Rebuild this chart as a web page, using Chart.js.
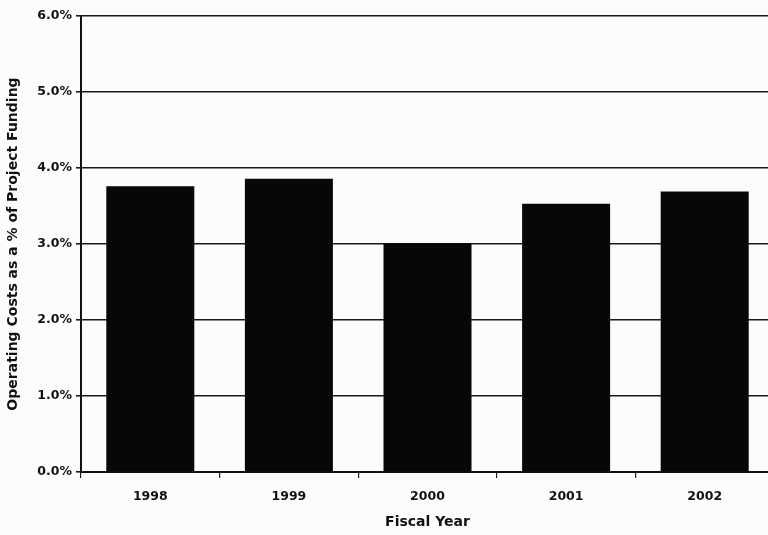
<!DOCTYPE html>
<html>
<head>
<meta charset="utf-8">
<script src="https://cdn.jsdelivr.net/npm/chart.js@4/dist/chart.umd.min.js"></script>
<style>
  html, body { margin: 0; padding: 0; background: #fcfcfc; overflow: hidden; }
  #wrap { width: 776px; height: 535px; }
</style>
</head>
<body>
<div id="wrap"><canvas id="c" width="776" height="535"></canvas></div>
<script>
// Operating costs as a share of project funding, by fiscal year
const fiscalYears = ['1998', '1999', '2000', '2001', '2002'];
const costShare = [3.76, 3.86, 3.01, 3.53, 3.69];
const yTicks = [0, 1, 2, 3, 4, 5, 6];

const tickFont = { family: 'DejaVu Sans', weight: 'bold', size: 12.5 };
const titleFont = { family: 'DejaVu Sans', weight: 'bold', size: 14 };

new Chart(document.getElementById('c'), {
  type: 'bar',
  data: {
    labels: fiscalYears,
    datasets: [{
      data: costShare,
      backgroundColor: '#070707',
      borderWidth: 0,
      barPercentage: 1.0,
      categoryPercentage: 0.635
    }]
  },
  options: {
    responsive: false,
    animation: false,
    layout: { padding: { top: 16, left: 0, right: 2, bottom: 0 } },
    plugins: { legend: { display: false }, tooltip: { enabled: false } },
    scales: {
      x: {
        grid: {
          offset: true,
          drawOnChartArea: false,
          drawTicks: true,
          tickLength: 6,
          color: '#222',
          lineWidth: 1.2
        },
        border: { display: true, color: '#111', width: 2 },
        ticks: { color: '#111', font: tickFont, padding: 11 },
        title: {
          display: true,
          text: 'Fiscal Year',
          color: '#111',
          font: titleFont,
          padding: { top: 4, bottom: 4 }
        },
        afterFit(scale) { scale.height = 63; }
      },
      y: {
        min: 0,
        max: 6,
        afterBuildTicks(scale) { scale.ticks = yTicks.map(v => ({ value: v })); },
        grid: {
          color: '#1a1a1a',
          lineWidth: 1.6,
          drawTicks: true,
          tickLength: 5
        },
        border: { display: true, color: '#111', width: 2 },
        ticks: {
          color: '#111',
          font: tickFont,
          padding: 4,
          callback: v => v.toFixed(1) + '%'
        },
        title: {
          display: true,
          text: 'Operating Costs as a % of Project Funding',
          color: '#111',
          font: titleFont,
          padding: { top: 5, bottom: 4 }
        },
        afterFit(scale) { scale.width = 81; }
      }
    }
  }
});
</script>
</body>
</html>
